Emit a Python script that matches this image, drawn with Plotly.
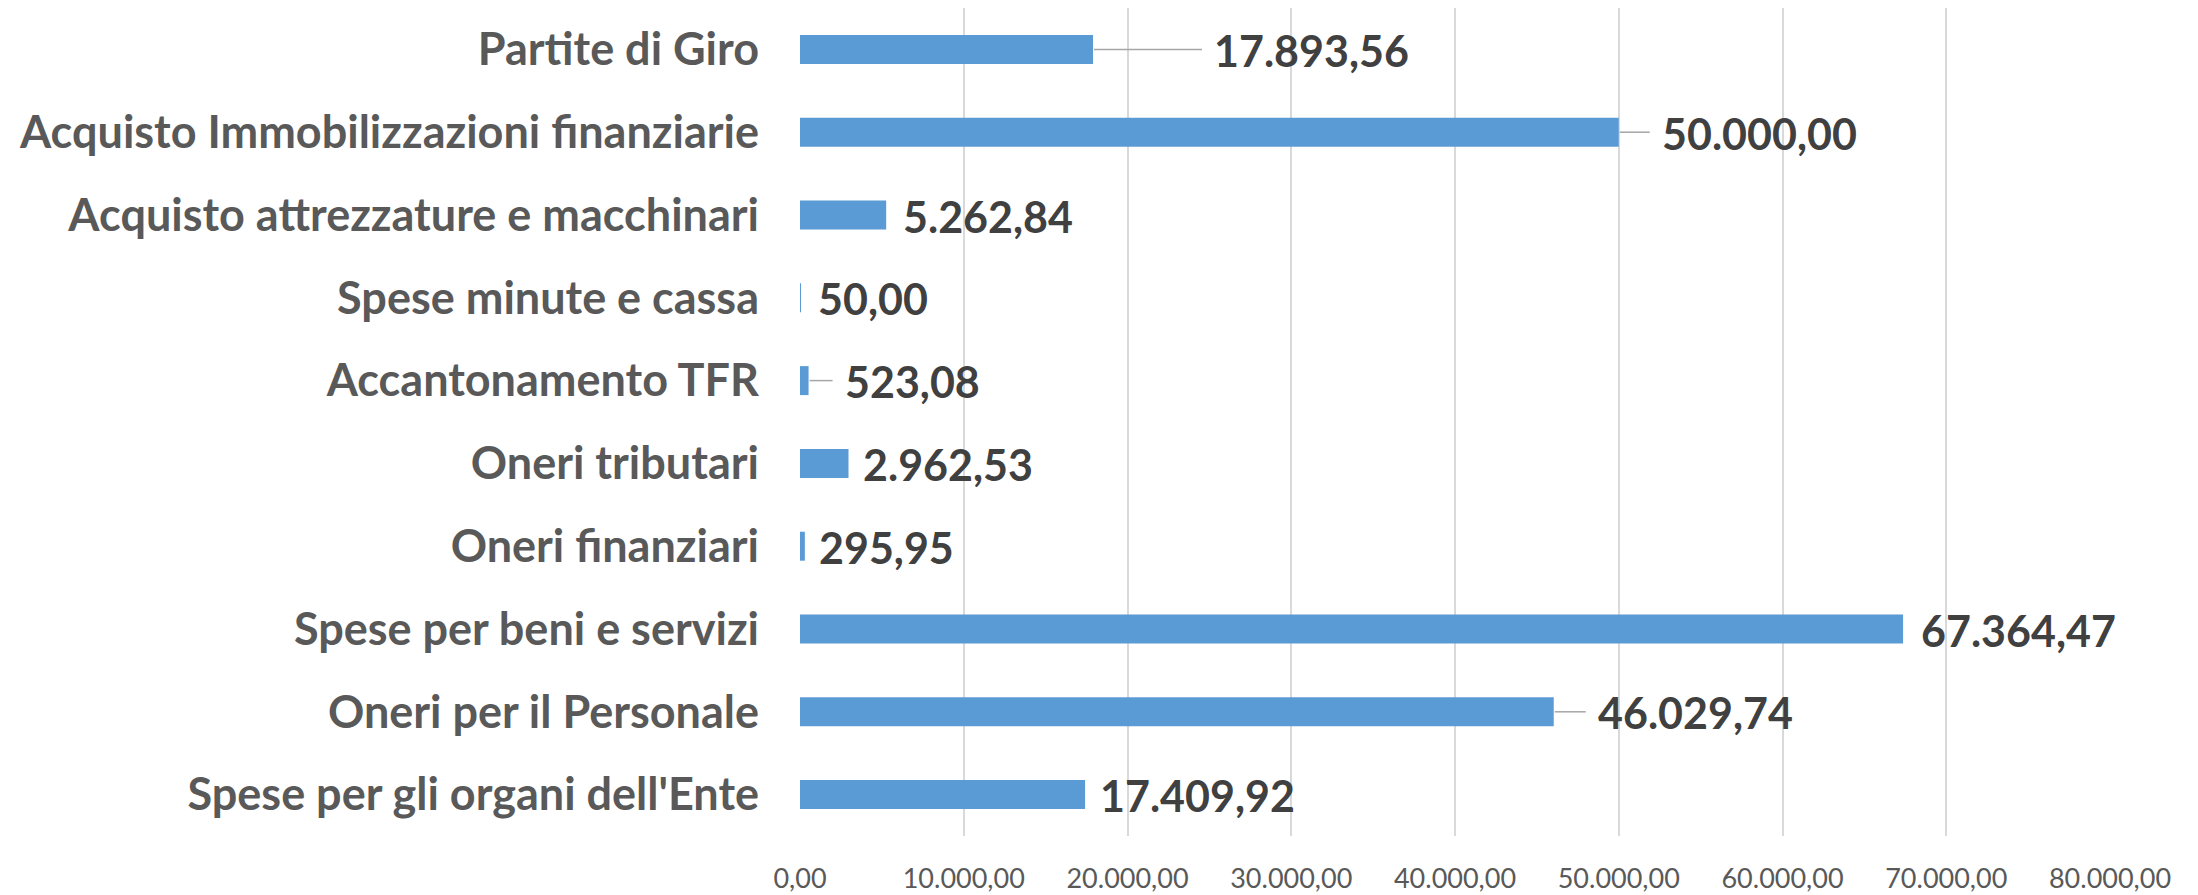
import plotly.graph_objects as go

categories = [
    "Spese per gli organi dell'Ente",
    "Oneri per il Personale",
    "Spese per beni e servizi",
    "Oneri finanziari",
    "Oneri tributari",
    "Accantonamento TFR",
    "Spese minute e cassa",
    "Acquisto attrezzature e macchinari",
    "Acquisto Immobilizzazioni finanziarie",
    "Partite di Giro",
]
values = [17409.92, 46029.74, 67364.47, 295.95, 2962.53, 523.08, 50.00, 5262.84, 50000.00, 17893.56]
value_labels = ["17.409,92", "46.029,74", "67.364,47", "295,95", "2.962,53", "523,08",
                "50,00", "5.262,84", "50.000,00", "17.893,56"]
# pixel offset of each data label from the end of its bar (leader line when large)
label_offsets = [13, 42, 16, 12, 12, 34, 15, 15, 41, 119]
tick_vals = [0, 10000, 20000, 30000, 40000, 50000, 60000, 70000, 80000]
tick_text = ["0,00", "10.000,00", "20.000,00", "30.000,00", "40.000,00",
             "50.000,00", "60.000,00", "70.000,00", "80.000,00"]

FONT = "Lato"
BAR = "#5b9bd5"

fig = go.Figure(go.Bar(
    x=values, y=categories, orientation="h",
    marker=dict(color=BAR, line=dict(width=0)),
    hoverinfo="skip",
))

annotations = []
shapes = []
for i, (cat, v, lab, off) in enumerate(zip(categories, values, value_labels, label_offsets)):
    annotations.append(dict(
        x=v, y=cat, xref="x", yref="y", text=lab, showarrow=False,
        xanchor="left", yanchor="middle", xshift=off, yshift=-1,
        font=dict(family=FONT, size=43, color="#404040", weight="bold"),
    ))
    if off > 25:
        shapes.append(dict(
            type="line", xref="x", yref="y", xsizemode="pixel", xanchor=v,
            x0=1, x1=off - 10, y0=i, y1=i,
            line=dict(color="#a6a6a6", width=1.5),
        ))

fig.update_layout(
    width=2198, height=895,
    margin=dict(l=792, r=96, t=0, b=67),
    paper_bgcolor="white", plot_bgcolor="white",
    bargap=0.65,
    showlegend=False,
    annotations=annotations,
    shapes=shapes,
    xaxis=dict(
        range=[0, 80000], tickvals=tick_vals, ticktext=tick_text,
        showgrid=True, gridcolor="#d9d9d9", gridwidth=1.5,
        zeroline=False, showline=False,
        tickfont=dict(family=FONT, size=27, color="#595959"),
        ticks="", ticklabelstandoff=24,
    ),
    yaxis=dict(
        categoryorder="array", categoryarray=categories,
        showgrid=False, zeroline=False, showline=False, ticks="",
        tickfont=dict(family=FONT, size=45, color="#595959", weight="bold"),
        ticklabelstandoff=40,
    ),
)

fig.write_html("out.html")
